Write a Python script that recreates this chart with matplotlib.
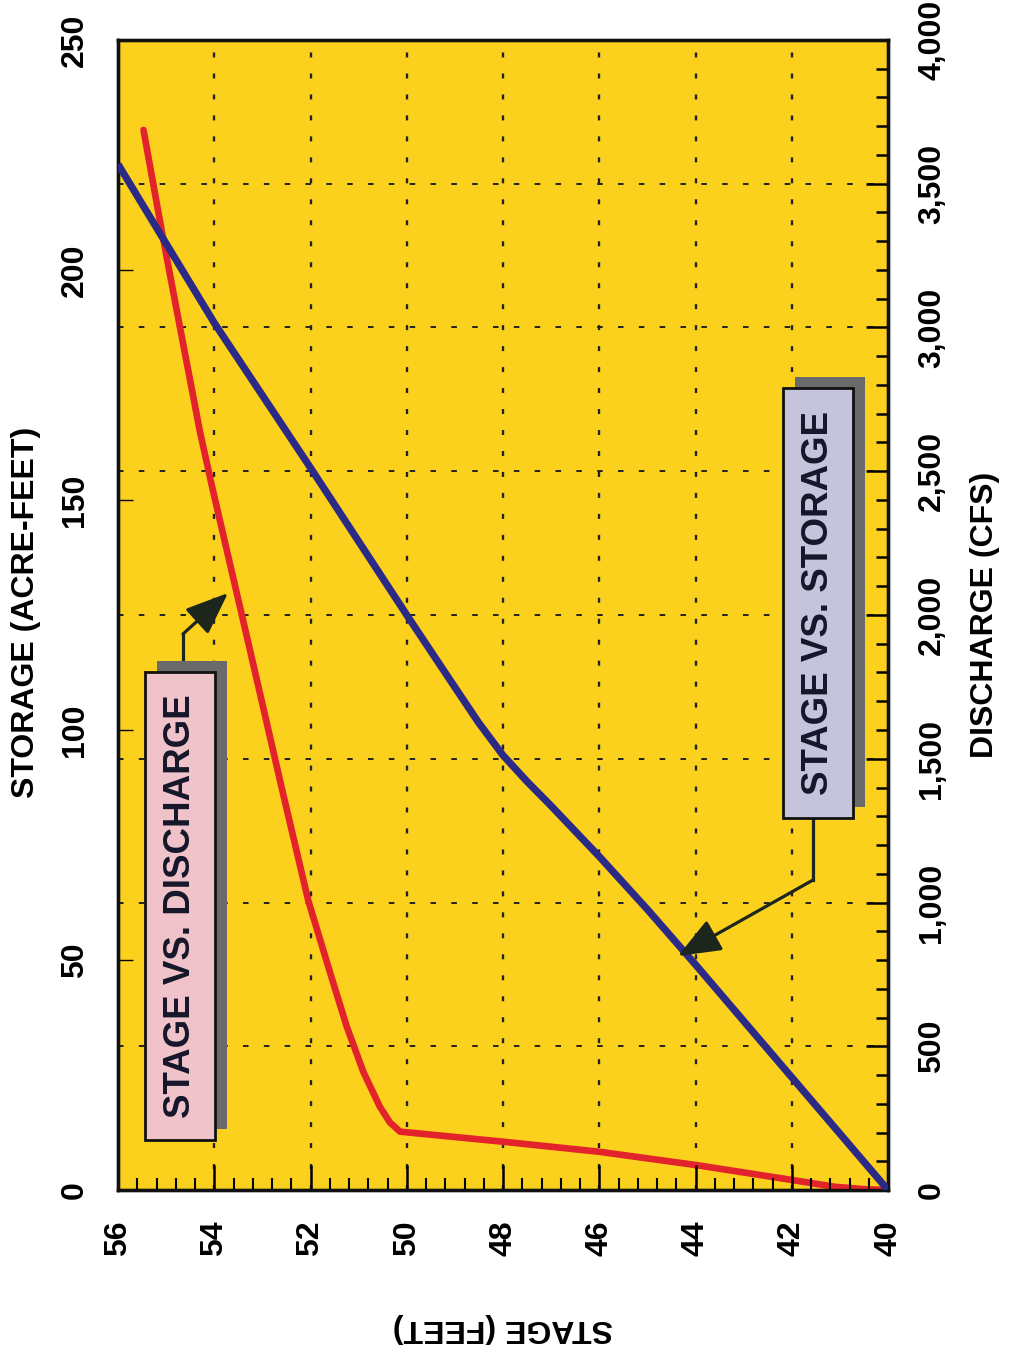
import matplotlib
matplotlib.use('Agg')
import matplotlib.pyplot as plt
from matplotlib.ticker import MultipleLocator, FixedLocator, FuncFormatter
from matplotlib.patches import Rectangle
from matplotlib.lines import Line2D

plt.rcParams['lines.scale_dashes'] = False
plt.rcParams['font.family'] = ['Liberation Sans Narrow', 'Liberation Sans', 'DejaVu Sans']
plt.rcParams['font.weight'] = 'bold'

# ---------------- data ----------------
stage_ticks = [40, 42, 44, 46, 48, 50, 52, 54, 56]
storage_ticks = [0, 50, 100, 150, 200, 250]
discharge_ticks = [0, 500, 1000, 1500, 2000, 2500, 3000, 3500, 4000]

# Stage vs. storage (blue)
storage_stage = [40, 42, 44, 45, 46, 47, 47.5, 48, 48.5, 49, 50, 52, 54, 56]
storage_acft = [0, 24.5, 49, 61, 72.5, 83.5, 88.8, 94.5, 101.5, 109.3, 125, 157, 188.5, 223]

# Stage vs. discharge (red)
discharge_stage = [40.0, 40.5, 41.1, 42.0, 44.0, 46.0, 48.0, 50.14, 50.35, 50.56,
                   50.9, 51.25, 51.6, 52.05, 52.6, 53.26, 53.6, 54.05, 54.3,
                   54.78, 55.09, 55.47]
discharge_cfs = [0, 3, 11, 35, 87, 133, 168, 203, 235, 290, 410, 570, 760, 1009,
                 1400, 1880, 2125, 2450, 2640, 3060, 3335, 3687]

label_storage = 'STAGE VS. STORAGE'
label_discharge = 'STAGE VS. DISCHARGE'

# ---------------- figure ----------------
W, H = 1013, 1353
L, R, T, B = 118, 888, 40, 1190
fig = plt.figure(figsize=(W / 100, H / 100), dpi=100, facecolor='white')
ax = fig.add_axes([L / W, 1 - B / H, (R - L) / W, (B - T) / H])
ax2 = ax.twinx()

YELLOW = '#FCD11E'
ax.set_zorder(2)
ax2.set_zorder(1)
ax.patch.set_visible(False)
ax2.patch.set_visible(True)
ax2.patch.set_facecolor(YELLOW)

ax.set_xlim(56, 40)
ax.set_ylim(0, 250)
ax2.set_ylim(0, 4000)

# grid (drawn on lower axes so lines sit above it)
ax2.yaxis.set_major_locator(FixedLocator(discharge_ticks))
ax2.yaxis.set_minor_locator(MultipleLocator(100))
ax2.grid(axis='y', which='major', color='#222222', lw=1.4, linestyle=(0, (4.0, 11.0)))
for s in stage_ticks[1:-1]:
    ax2.axvline(s, color='#222222', lw=1.7, linestyle=(0, (3.6, 11.5)), zorder=0.5)

# lines
ax2.plot(discharge_stage, discharge_cfs, color='#E3232B', lw=4.8,
         solid_capstyle='round', solid_joinstyle='round', zorder=3)
ax.plot(storage_stage, storage_acft, color='#2B2A86', lw=5.2,
        solid_capstyle='butt', solid_joinstyle='round', zorder=3)

# ticks
ax.xaxis.set_major_locator(FixedLocator(stage_ticks))
ax.xaxis.set_minor_locator(MultipleLocator(0.4))
ax.tick_params(axis='x', which='major', direction='in', length=18, width=1.8,
               pad=22, labelsize=23, labelrotation=90, top=False)
ax.tick_params(axis='x', which='minor', direction='in', length=8.5, width=1.5, top=False)

ax.yaxis.set_major_locator(FixedLocator(storage_ticks))
ax.tick_params(axis='y', which='major', direction='in', length=11, width=1.0,
               pad=20, labelsize=23, labelrotation=90)
for lab in ax.get_yticklabels():
    lab.set_va('center')

ax2.tick_params(axis='y', which='major', direction='in', length=16, width=1.8,
                pad=21, labelsize=23, labelrotation=90)
ax2.tick_params(axis='y', which='minor', direction='in', length=8.5, width=1.8)
ax2.yaxis.set_major_formatter(FuncFormatter(lambda v, p: f'{int(v):,}'))
for lab in ax2.get_yticklabels():
    lab.set_va('center')

for a in (ax, ax2):
    for sp in a.spines.values():
        sp.set_linewidth(2.4)
        sp.set_color('#111111')

# axis titles
fig.text(26 / W, 1 - 612 / H, 'STORAGE (ACRE-FEET)', rotation=90, ha='center',
         va='center', fontsize=23)
fig.text(985 / W, 1 - 615 / H, 'DISCHARGE (CFS)', rotation=90, ha='center',
         va='center', fontsize=23)
fig.text(503 / W, 1 - 1328 / H, 'STAGE (FEET)', rotation=180, ha='center',
         va='center', fontsize=23)


# ---------------- callout boxes ----------------
def af(px, py):
    return ((px - L) / (R - L), (B - py) / (B - T))


def callout(x0, y0, x1, y1, face, text, pts, tip):
    sx0, sy0 = af(x0 + 12, y1 - 11)
    sx1, sy1 = af(x1 + 12, y0 - 11)
    ax.add_patch(Rectangle((sx0, sy0), sx1 - sx0, sy1 - sy0, transform=ax.transAxes,
                           facecolor='#6A6A6A', edgecolor='none', zorder=5, clip_on=False))
    bx0, by0 = af(x0, y1)
    bx1, by1 = af(x1, y0)
    ax.add_patch(Rectangle((bx0, by0), bx1 - bx0, by1 - by0, transform=ax.transAxes,
                           facecolor=face, edgecolor='#111111', lw=2.0, zorder=6,
                           clip_on=False))
    ax.text((bx0 + bx1) / 2, (by0 + by1) / 2, text, transform=ax.transAxes,
            rotation=90, ha='center', va='center', fontsize=26.5,
            family=['Liberation Sans', 'DejaVu Sans'], fontweight='bold',
            color='#16162A', zorder=7)
    xs, ys = zip(*[af(*p) for p in pts])
    ax.add_line(Line2D(xs, ys, transform=ax.transAxes, color='#1C261C', lw=2.3,
                       zorder=4, solid_joinstyle='miter'))
    ax.annotate('', xy=af(*tip), xytext=af(*pts[-1]), xycoords='axes fraction',
                textcoords='axes fraction',
                arrowprops=dict(arrowstyle='-|>,head_length=0.55,head_width=0.22',
                                mutation_scale=48, color='#1C261C', lw=2.3,
                                shrinkA=0, shrinkB=0), zorder=4)


callout(783, 388, 853, 818, '#C6C3DC', label_storage,
        [(813, 818), (813, 880)], (678, 956))
callout(145, 672, 215, 1140, '#F0C3CA', label_discharge,
        [(183, 672), (183, 634)], (228, 593))

fig.savefig('out.png', dpi=100, facecolor='white')
